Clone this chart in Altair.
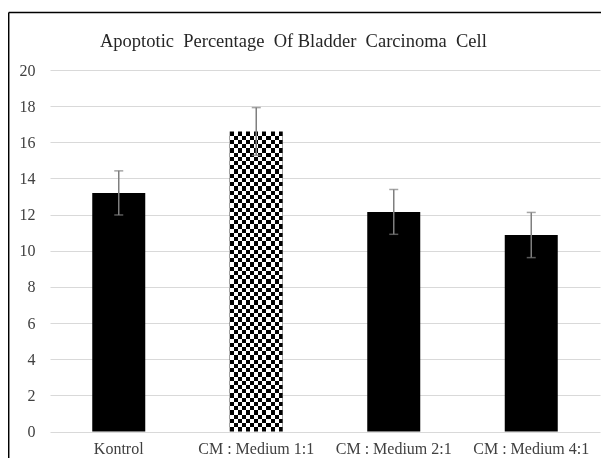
import altair as alt
import pandas as pd

# ---- data ----
groups = ["Kontrol", "CM : Medium 1:1", "CM : Medium 2:1", "CM : Medium 4:1"]
means = [13.2, 16.6, 12.15, 10.87]
errors = [1.22, 1.32, 1.24, 1.25]
y_ticks = [0, 2, 4, 6, 8, 10, 12, 14, 16, 18, 20]
title_text = ["Apoptotic\u00a0 Percentage\u00a0 Of Bladder\u00a0 Carcinoma\u00a0 Cell"]
pattern_group = "CM : Medium 1:1"

df = pd.DataFrame({"group": groups, "mean": means, "err": errors})
df["lo"] = df["mean"] - df["err"]
df["hi"] = df["mean"] + df["err"]

W, H = 550, 361.5
FONT = "Liberation Serif"
BAR = 53
CELL = 4.2

# checkerboard: horizontal stripes + vertical stripes blended with "difference"
bar_px = means[groups.index(pattern_group)] / 20 * H
n_rows = max(1, round(bar_px / CELL))
n_cols = max(1, round(BAR / CELL))


def stripes(n):
    stops = []
    for i in range(n):
        c = "#ffffff" if i % 2 == 0 else "#000000"
        stops.append(alt.GradientStop(offset=i / n, color=c))
        stops.append(alt.GradientStop(offset=(i + 1) / n, color=c))
    return stops


grad_h = alt.Gradient(gradient="linear", stops=stripes(n_rows), x1=0, y1=0, x2=0, y2=1)
grad_v = alt.Gradient(gradient="linear", stops=stripes(n_cols), x1=0, y1=0, x2=1, y2=0)

x_enc = alt.X(
    "group:N",
    sort=groups,
    scale=alt.Scale(paddingInner=0, paddingOuter=0),
    axis=alt.Axis(
        title=None, labelAngle=0, ticks=False, domain=False,
        labelFont=FONT, labelFontSize=16, labelColor="#404040", labelPadding=9,
        labelOverlap=False,
    ),
)
y_scale = alt.Scale(domain=[0, 20], nice=False, zero=True)
y_axis = alt.Axis(
    title=None, values=y_ticks, domain=False, ticks=False, grid=True,
    gridColor="#d9d9d9", gridWidth=1, labelFont=FONT, labelFontSize=16,
    labelColor="#404040", labelPadding=15, labelOverlap=False,
)
y_enc = alt.Y("mean:Q", scale=y_scale, axis=y_axis)

base = alt.Chart(df)

bars = base.transform_filter(alt.datum.group != pattern_group).mark_bar(
    size=BAR, color="#000000"
).encode(x=x_enc, y=y_enc)

checker_a = base.transform_filter(alt.datum.group == pattern_group).mark_bar(
    size=BAR, color=grad_h
).encode(x=x_enc, y=y_enc)

checker_b = base.transform_filter(alt.datum.group == pattern_group).mark_bar(
    size=BAR, color=grad_v, blend="difference"
).encode(x=x_enc, y=y_enc)

err_rule = base.mark_rule(color="#7f7f7f", strokeWidth=1.5).encode(
    x=x_enc,
    y=alt.Y("lo:Q", scale=y_scale, axis=y_axis),
    y2="hi:Q",
)

caps = base.transform_fold(["lo", "hi"], as_=["kind", "val"]).mark_tick(
    color="#7f7f7f", thickness=1.5, size=9
).encode(
    x=x_enc,
    y=alt.Y("val:Q", scale=y_scale, axis=y_axis),
)

title = alt.Chart(pd.DataFrame({"t": title_text})).mark_text(
    font=FONT, fontSize=18.5, color="#262626", align="left", baseline="alphabetic"
).encode(text="t:N", x=alt.value(50), y=alt.value(-23))

frame_data = alt.Data(values=[{"k": 1}])
frame_left = alt.Chart(frame_data).mark_rule(color="#000000", strokeWidth=1.5).encode(
    x=alt.value(-41.3), y=alt.value(-57.5), y2=alt.value(H + 40)
)
frame_top = alt.Chart(frame_data).mark_rule(color="#000000", strokeWidth=1.5).encode(
    x=alt.value(-41.3), x2=alt.value(W + 20), y=alt.value(-57.5)
)

chart = alt.layer(
    bars, checker_a, checker_b, err_rule, caps, title, frame_left, frame_top
).properties(
    width=W,
    height=H,
    padding={"left": 42, "top": 62, "right": 1, "bottom": 26},
    autosize=alt.AutoSizeParams(type="none"),
).configure_view(stroke=None)

chart.save("out.html", embed_options={"renderer": "svg", "actions": False})
